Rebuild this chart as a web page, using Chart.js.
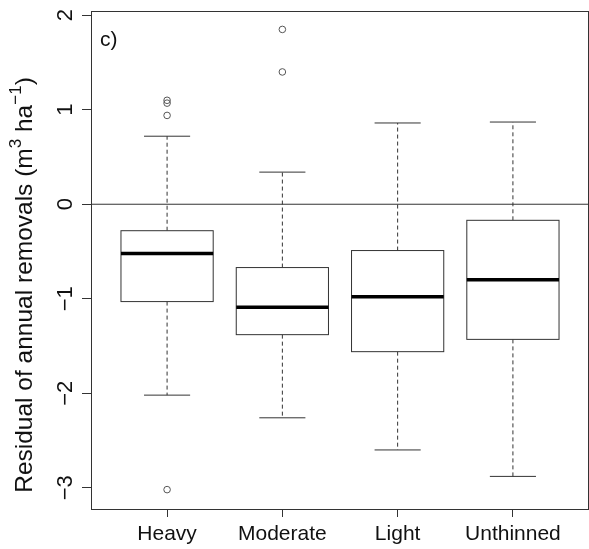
<!DOCTYPE html>
<html>
<head>
<meta charset="utf-8">
<script src="https://cdn.jsdelivr.net/npm/chart.js@4.4.1/dist/chart.umd.min.js"></script>
<style>
  html, body { margin: 0; padding: 0; background: #fff; }
  canvas { display: block; }
</style>
</head>
<body>
<canvas id="box-chart" width="589" height="549"></canvas>
<script>
const categories = ['Heavy', 'Moderate', 'Light', 'Unthinned'];
const lowerWhisker = [-2.02, -2.26, -2.60, -2.88];
const q1 = [-1.03, -1.38, -1.56, -1.43];
const medians = [-0.52, -1.09, -0.98, -0.80];
const q3 = [-0.28, -0.67, -0.49, -0.17];
const upperWhisker = [0.72, 0.34, 0.86, 0.87];
const outliers = [[1.10, 1.07, 0.94, -3.02], [1.85, 1.40], [], []];
const yTicks = [-3, -2, -1, 0, 1, 2];
const panelLabel = 'c)';

const FONT = '"Liberation Sans", Arial, sans-serif';
const LINE = '#333';

const outlierPoints = [];
outliers.forEach((vals, i) => vals.forEach(v => outlierPoints.push({ x: i + 1, y: v })));

const boxPlugin = {
  id: 'boxes',
  beforeDatasetsDraw(chart) {
    const { ctx, chartArea: a, scales: { x, y } } = chart;
    ctx.save();
    // zero reference line
    ctx.strokeStyle = LINE;
    ctx.lineWidth = 1;
    ctx.beginPath();
    ctx.moveTo(a.left, y.getPixelForValue(0));
    ctx.lineTo(a.right, y.getPixelForValue(0));
    ctx.stroke();

    categories.forEach((c, i) => {
      const cx = x.getPixelForValue(i + 1);
      const bl = x.getPixelForValue(i + 1 - 0.4);
      const br = x.getPixelForValue(i + 1 + 0.4);
      const sl = x.getPixelForValue(i + 1 - 0.2);
      const sr = x.getPixelForValue(i + 1 + 0.2);
      const yq1 = y.getPixelForValue(q1[i]);
      const yq3 = y.getPixelForValue(q3[i]);
      const ylo = y.getPixelForValue(lowerWhisker[i]);
      const yhi = y.getPixelForValue(upperWhisker[i]);
      const ymed = y.getPixelForValue(medians[i]);

      // whiskers
      ctx.strokeStyle = LINE;
      ctx.lineWidth = 1;
      ctx.setLineDash([4, 3]);
      ctx.beginPath();
      ctx.moveTo(cx, yq3); ctx.lineTo(cx, yhi);
      ctx.moveTo(cx, yq1); ctx.lineTo(cx, ylo);
      ctx.stroke();
      ctx.setLineDash([]);
      ctx.beginPath();
      ctx.moveTo(sl, yhi); ctx.lineTo(sr, yhi);
      ctx.moveTo(sl, ylo); ctx.lineTo(sr, ylo);
      ctx.stroke();

      // box
      ctx.fillStyle = '#fff';
      ctx.fillRect(bl, yq3, br - bl, yq1 - yq3);
      ctx.strokeRect(bl, yq3, br - bl, yq1 - yq3);

      // median
      ctx.strokeStyle = '#000';
      ctx.lineWidth = 3.5;
      ctx.beginPath();
      ctx.moveTo(bl, ymed); ctx.lineTo(br, ymed);
      ctx.stroke();
    });
    ctx.restore();
  },
  afterDraw(chart) {
    const { ctx, chartArea: a, scales: { y } } = chart;
    ctx.save();
    // plot frame
    ctx.strokeStyle = LINE;
    ctx.lineWidth = 1;
    ctx.strokeRect(a.left + 0.5, a.top + 0.5, a.right - a.left - 1, a.bottom - a.top);

    ctx.fillStyle = '#111';
    // y tick labels, rotated like R's default
    ctx.font = '22px ' + FONT;
    ctx.textAlign = 'center';
    ctx.textBaseline = 'alphabetic';
    yTicks.forEach(t => {
      ctx.save();
      ctx.translate(72, y.getPixelForValue(t));
      ctx.rotate(-Math.PI / 2);
      ctx.fillText(t < 0 ? '\u2212' + Math.abs(t) : String(t), 0, 0);
      ctx.restore();
    });

    // y axis title with superscripts
    const size = 24.5;
    const parts = [
      ['Residual of annual removals (m', false],
      ['3', true],
      [' ha', false],
      ['\u22121', true],
      [')', false],
    ];
    const fontFor = sup => (sup ? Math.round(size * 0.7) : size) + 'px ' + FONT;
    let total = 0;
    parts.forEach(([t, sup]) => { ctx.font = fontFor(sup); total += ctx.measureText(t).width; });
    ctx.translate(32, 285);
    ctx.rotate(-Math.PI / 2);
    ctx.textAlign = 'left';
    let px = -total / 2;
    parts.forEach(([t, sup]) => {
      ctx.font = fontFor(sup);
      ctx.fillText(t, px, sup ? -size * 0.45 : 0);
      px += ctx.measureText(t).width;
    });
    ctx.restore();

    // panel label
    ctx.save();
    ctx.fillStyle = '#111';
    ctx.font = '21px ' + FONT;
    ctx.textAlign = 'left';
    ctx.fillText(panelLabel, a.left + 9, 45.5);
    ctx.restore();
  },
};

new Chart(document.getElementById('box-chart'), {
  type: 'scatter',
  data: {
    datasets: [{
      label: 'Outliers',
      data: outlierPoints,
      pointStyle: 'circle',
      pointRadius: 3.3,
      backgroundColor: 'rgba(0,0,0,0)',
      borderColor: '#555',
      borderWidth: 1,
    }],
  },
  options: {
    responsive: false,
    animation: false,
    devicePixelRatio: 1,
    events: [],
    layout: { autoPadding: false, padding: { top: 11, right: 0, left: 0, bottom: 0 } },
    plugins: {
      legend: { display: false },
      tooltip: { enabled: false },
    },
    scales: {
      x: {
        type: 'linear',
        min: 0.34,
        max: 4.66,
        afterBuildTicks: scale => { scale.ticks = categories.map((c, i) => ({ value: i + 1 })); },
        afterFit: scale => {
          scale.height = 40;
          scale.paddingLeft = 0;
          scale.paddingRight = 0;
        },
        ticks: {
          callback: v => categories[v - 1],
          font: { family: FONT, size: 21 },
          color: '#111',
          padding: 5,
          maxRotation: 0,
          autoSkip: false,
        },
        grid: { drawOnChartArea: false, drawTicks: true, tickLength: 8, color: LINE },
        border: { display: false },
      },
      y: {
        min: -3.225,
        max: 2.045,
        afterBuildTicks: scale => { scale.ticks = yTicks.map(v => ({ value: v })); },
        afterFit: scale => {
          scale.width = 91;
          scale.paddingTop = 0;
          scale.paddingBottom = 0;
        },
        ticks: { display: false },
        grid: { drawOnChartArea: false, drawTicks: true, tickLength: 9, color: LINE },
        border: { display: false },
      },
    },
  },
  plugins: [boxPlugin],
});
</script>
</body>
</html>
